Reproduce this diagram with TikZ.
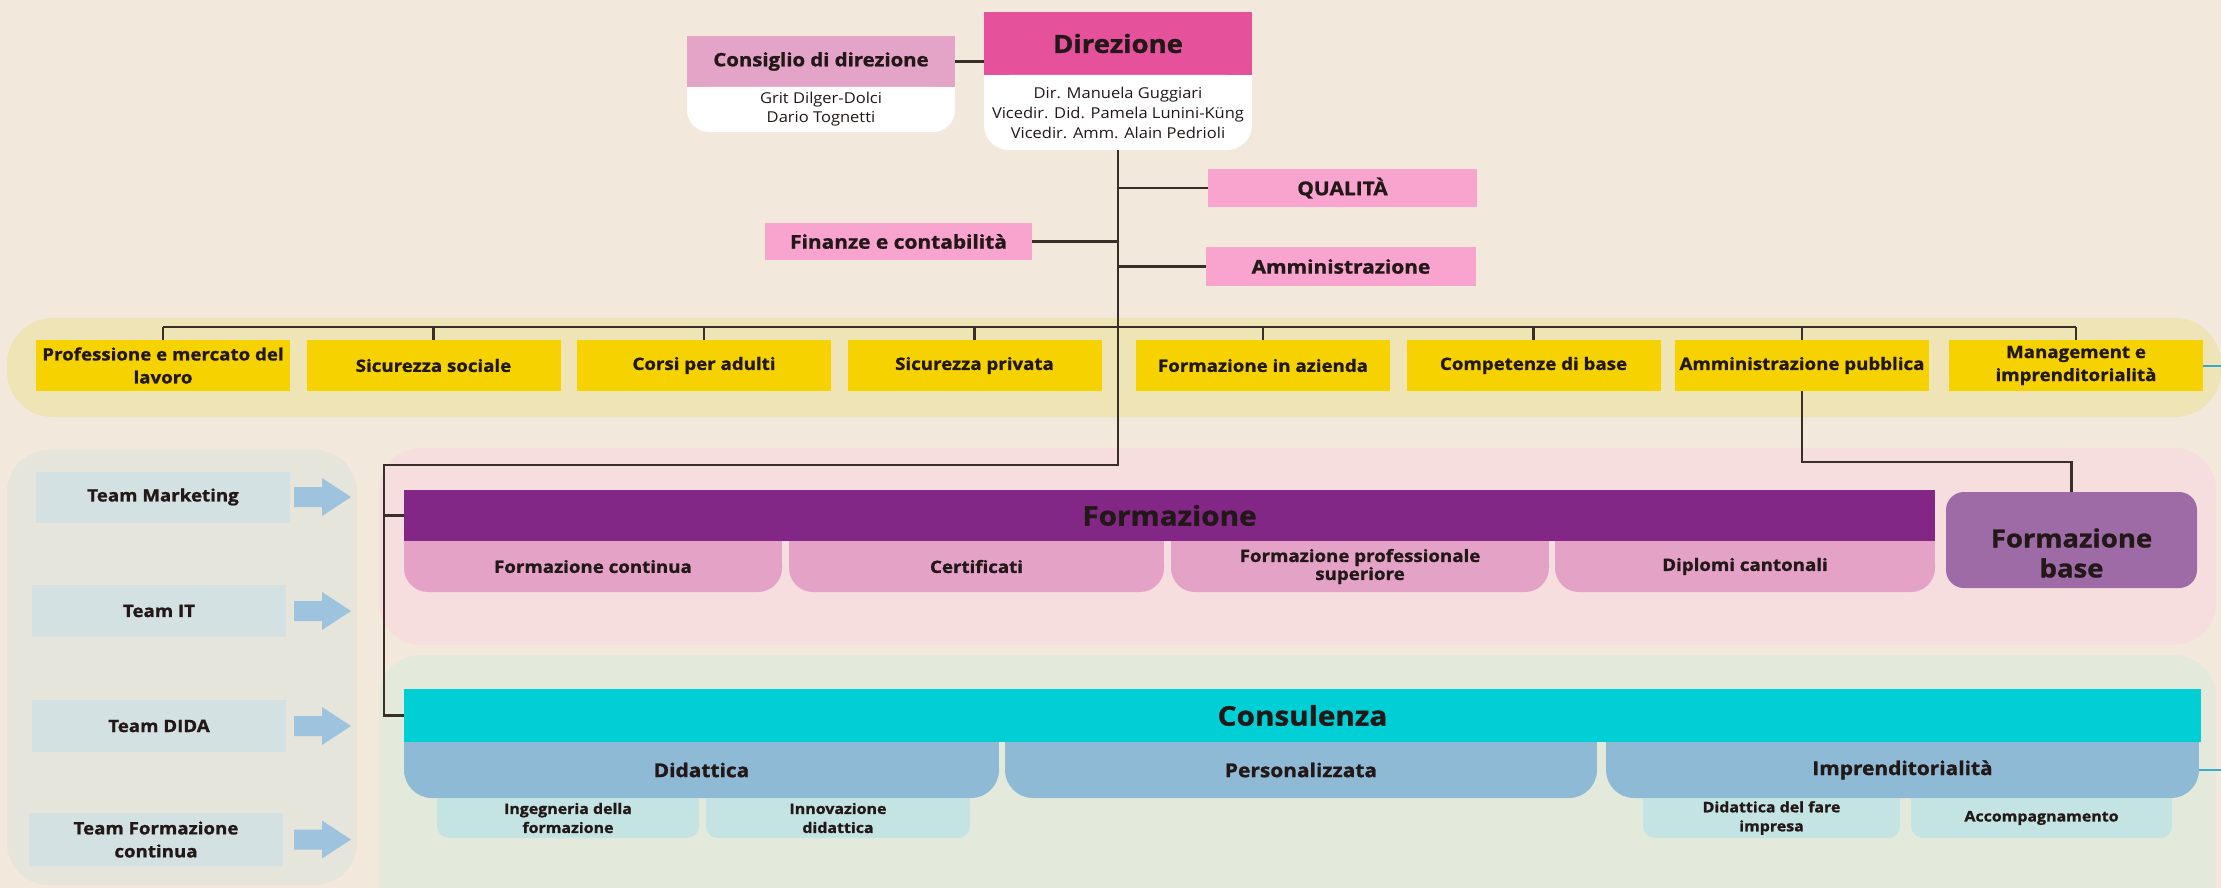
\documentclass[tikz,border=0pt]{standalone}
\usepackage{fontspec}
\setmainfont{Open Sans}[FakeStretch=1.1,BoldFeatures={FakeBold=1.2}]
\usetikzlibrary{backgrounds}
\definecolor{bgc}{HTML}{F3E8DC}
\definecolor{dirC}{HTML}{E5519A}
\definecolor{consC}{HTML}{E3A4C7}
\definecolor{pinkC}{HTML}{F9A3CF}
\definecolor{yelC}{HTML}{F6D300}
\definecolor{bandC}{HTML}{EEE4B6}
\definecolor{teamBg}{HTML}{E6E5DB}
\definecolor{teamC}{HTML}{D4E1E3}
\definecolor{arrC}{HTML}{9DC3DE}
\definecolor{pinkBg}{HTML}{F6DEDF}
\definecolor{formC}{HTML}{832786}
\definecolor{formSub}{HTML}{E4A2C7}
\definecolor{fbC}{HTML}{9E6BA6}
\definecolor{greenBg}{HTML}{E3EADC}
\definecolor{consuC}{HTML}{00CFD6}
\definecolor{consuSub}{HTML}{8FBAD5}
\definecolor{subsub}{HTML}{C4E3E3}
\definecolor{lc}{HTML}{3A2E28}
\definecolor{tealL}{HTML}{3DA8CC}
\definecolor{txt}{HTML}{231818}
\newcommand\fs[2]{\fontsize{#1}{#2}\selectfont}
\newcommand\bfill[3]{\fill[#2,rounded corners=#3] (#1.south west) rectangle (#1.north east); \fill[#2] (#1.north west) rectangle (#1.east);}
\newcommand\sfill[2]{\fill[#2] (#1.south west) rectangle (#1.north east);}
\begin{document}
\begin{tikzpicture}[x=1pt,y=-1pt,
  bx/.style={inner sep=0pt,outer sep=0pt,align=center,text=txt},
  ybox/.style={bx,minimum width=254,minimum height=51,font=\fs{17}{23}\bfseries},
  tbox/.style={bx,minimum width=254,minimum height=51,font=\fs{17}{23}\bfseries},
  pbox/.style={bx,minimum height=38,font=\fs{19}{22}\bfseries},
  fsub/.style={bx,minimum height=51,font=\fs{17}{15}\bfseries},
  csub/.style={bx,minimum height=56,font=\fs{19}{22}\bfseries},
  ssub/.style={bx,minimum height=40,font=\fs{14.5}{19}\bfseries},
  big/.style={bx,font=\fs{27}{30}\bfseries},
  conn/.style={draw=lc,line width=2.4pt},
  tconn/.style={draw=tealL,line width=2pt}]
\useasboundingbox (0,0) rectangle (2221,888);
% Direzione
\node[bx,minimum width=268,minimum height=63,font=\fs{25}{30}\bfseries] (dir) at (1118,43.5) {Direzione};
\node[bx,minimum width=268,minimum height=75,font=\fs{15}{20}] (dirb) at (1118,112.5) {Dir. Manuela Guggiari\\Vicedir. Did. Pamela Lunini-Küng\\Vicedir. Amm. Alain Pedrioli};
\node[bx,minimum width=268,minimum height=51,font=\fs{18.5}{22}\bfseries] (cons) at (821,61.5) {Consiglio di direzione};
\node[bx,minimum width=268,minimum height=45,font=\fs{15}{19}] (consb) at (821,109.5) {Grit Dilger-Dolci\\Dario Tognetti};
\node[pbox,minimum width=269] (qual) at (1342.5,188) {QUALITÀ};
\node[pbox,minimum width=267,minimum height=37] (fin) at (898.5,241.5) {Finanze e contabilità};
\node[pbox,minimum width=270,minimum height=39] (amm) at (1341,266.5) {Amministrazione};
% yellow row
\node[ybox] (y1) at (163,365.5) {Professione e mercato del\\lavoro};
\node[ybox] (y2) at (433.5,365.5) {Sicurezza sociale};
\node[ybox] (y3) at (704,365.5) {Corsi per adulti};
\node[ybox] (y4) at (974.5,365.5) {Sicurezza privata};
\node[ybox] (y5) at (1263,365.5) {Formazione in azienda};
\node[ybox] (y6) at (1533.5,365.5) {Competenze di base};
\node[ybox] (y7) at (1802,365.5) {Amministrazione pubblica};
\node[ybox] (y8) at (2076,365.5) {Management e\\imprenditorialità};
% teams
\node[tbox] (t1) at (163,497) {Team Marketing};
\node[tbox,minimum height=52] (t2) at (159,611) {Team IT};
\node[tbox,minimum height=52] (t3) at (159,726) {Team DIDA};
\node[tbox,minimum height=53] (t4) at (156,839.5) {Team Formazione\\continua};
% Formazione
\node[big,minimum width=1531,minimum height=51] (form) at (1169.5,515.5) {Formazione};
\node[fsub,minimum width=378] (f1) at (593,566.5) {Formazione continua};
\node[fsub,minimum width=375] (f2) at (976.5,566.5) {Certificati};
\node[fsub,minimum width=378] (f3) at (1360,566.5) {Formazione professionale\\superiore};
\node[fsub,minimum width=380] (f4) at (1745,566.5) {Diplomi cantonali};
\node[bx,minimum width=251,minimum height=96] (fb) at (2071.5,540) {};
\node[bx,font=\fs{25}{30}\bfseries] (fbt) at (2071.5,553) {Formazione\\base};
% Consulenza
\node[big,minimum width=1797,minimum height=53] (consu) at (1302.5,715.5) {Consulenza};
\node[csub,minimum width=595] (c1) at (701.5,770) {Didattica};
\node[csub,minimum width=592] (c2) at (1301,770) {Personalizzata};
\node[csub,minimum width=593] (c3) at (1902.5,770) {Imprenditorialità};
\node[ssub,minimum width=262] (s1) at (568,818) {Ingegneria della\\formazione};
\node[ssub,minimum width=264] (s2) at (838,818) {Innovazione\\didattica};
\node[ssub,minimum width=257] (s3) at (1771.5,818) {Didattica del fare\\impresa};
\node[ssub,minimum width=261] (s4) at (2041.5,818) {Accompagnamento};
% coordinates
\coordinate (j1) at (1118,465);
\coordinate (j2) at (384,465);
\coordinate (bus) at (0,327);
\coordinate (apj) at (0,462);
\coordinate (edge1) at (2221,365.5);
\coordinate (edge2) at (2221,770);
\begin{scope}[on background layer]
  \fill[bgc] (0,0) rectangle (2221,888);
  \fill[bandC,rounded corners=46] (7,318) rectangle (2221,417);
  \fill[teamBg,rounded corners=42] (7,450) rectangle (357,885);
  \fill[pinkBg,rounded corners=42] (379,448) rectangle (2216,645);
  \fill[greenBg,rounded corners=42] (379,655) rectangle (2216,888);
  \fill[greenBg] (379,720) rectangle (2216,888);
  % arrows
  \foreach \c in {497,611,726,839.5}{
    \fill[arrC] (294,\c-10) -- (322,\c-10) -- (322,\c-19) -- (351,\c) -- (322,\c+19) -- (322,\c+10) -- (294,\c+10) -- cycle;}
  % box fills
  \sfill{dir}{dirC}
  \bfill{dirb}{white}{25}
  \sfill{cons}{consC}
  \bfill{consb}{white}{22}
  \sfill{qual}{pinkC}
  \sfill{fin}{pinkC}
  \sfill{amm}{pinkC}
  \foreach \n in {y1,y2,y3,y4,y5,y6,y7,y8}{\sfill{\n}{yelC}}
  \foreach \n in {t1,t2,t3,t4}{\sfill{\n}{teamC}}
  \sfill{form}{formC}
  \foreach \n in {f1,f2,f3,f4}{\bfill{\n}{formSub}{24}}
  \fill[fbC,rounded corners=18] (fb.south west) rectangle (fb.north east);
  \sfill{consu}{consuC}
  \foreach \n in {c1,c2,c3}{\bfill{\n}{consuSub}{28}}
  \foreach \n in {s1,s2,s3,s4}{\bfill{\n}{subsub}{12}}
  % connectors
  \draw[conn] (cons.east) -- (cons.east -| dir.west);
  \draw[conn] (dirb.south) -- (j1) -- (j2) |- (form.west);
  \draw[conn] (j2) |- (consu.west);
  \draw[conn] (qual.west) -- (qual.west -| dirb.south);
  \draw[conn] (fin.east) -- (fin.east -| dirb.south);
  \draw[conn] (amm.west) -- (amm.west -| dirb.south);
  \draw[conn] (y1.north |- bus) -- (y8.north |- bus);
  \foreach \n in {y1,y2,y3,y4,y5,y6,y7,y8}{\draw[conn] (\n.north) -- (\n.north |- bus);}
  \draw[conn] (y7.south) -- (y7.south |- apj) -| (fb.north);
  \draw[tconn] (y8.east) -- (edge1);
  \draw[tconn] (c3.east) -- (edge2);
\end{scope}
\end{tikzpicture}
\end{document}
